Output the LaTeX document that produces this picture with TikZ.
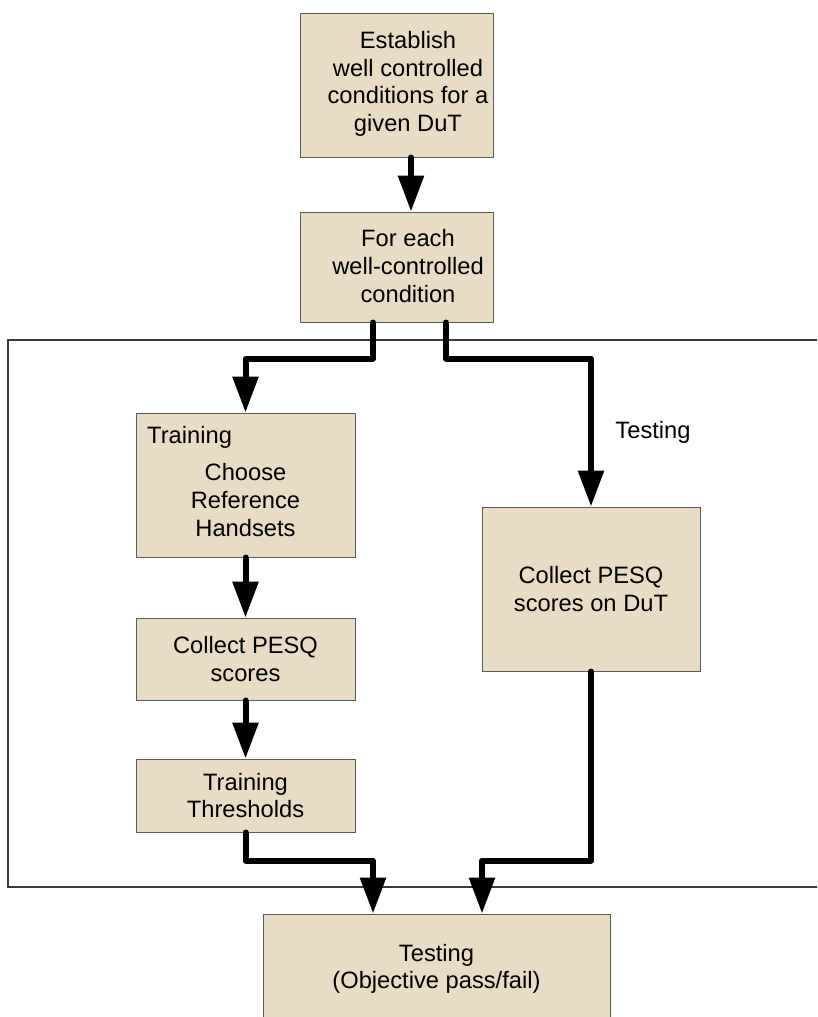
\documentclass[tikz,border=0pt]{standalone}
\usepackage{fontspec}
\setmainfont{Liberation Sans}
\usetikzlibrary{arrows.meta}
\definecolor{boxfill}{HTML}{E8DCC4}
\definecolor{boxline}{HTML}{5A5A5A}
\definecolor{frameline}{HTML}{3A3A3A}
\tikzset{
  box/.style={draw=boxline, line width=1pt, fill=boxfill, inner sep=0pt, align=center,
    font=\fontsize{23.7}{27.7}\selectfont},
  lbl/.style={inner sep=0pt, align=center, font=\fontsize{23.7}{27.7}\selectfont},
  flow/.style={line width=6pt, line cap=round, line join=round,
    -{Triangle[length=36pt,width=25pt]}},
  frame/.style={draw=frameline, line width=1.8pt}
}
\begin{document}
\begin{tikzpicture}[x=1pt,y=-1pt]
\useasboundingbox (0,0) rectangle (817,1017);
\clip (0,0) rectangle (817,1017);
% frame
\draw[frame] (825,340) -- (8,340) -- (8,887) -- (825,887);
% boxes
\node[box, minimum width=193pt, minimum height=144pt] (b1) at (396.5,85) {};
\node[lbl] (b1txt) at (408,84) {Establish\\well controlled\\conditions for a\\given DuT};
\node[box, minimum width=193pt, minimum height=110pt] (b2) at (396.5,267) {};
\node[lbl] (b2txt) at (408,266) {For each\\well-controlled\\condition};
\node[box, minimum width=219pt, minimum height=144pt] (train) at (245.5,485) {};
\node[lbl] (traintxt) at (245.5,500) {Choose\\Reference\\Handsets};
\node[lbl, anchor=west] (trainlbl) at (147,437) {Training};
\node[box, minimum width=219pt, minimum height=82pt] (coll) at (245.5,659) {Collect PESQ\\scores};
\node[box, minimum width=219pt, minimum height=73pt] (thr) at (245.5,795.5) {Training\\Thresholds};
\node[box, minimum width=218pt, minimum height=164pt] (dut) at (591,589) {Collect PESQ\\scores on DuT};
\node[box, minimum width=347pt, minimum height=110pt] (out) at (436.5,969) {Testing\\(Objective pass/fail)};
\node[lbl] (testlbl) at (653,432) {Testing};
% connectors
\draw[flow] ([xshift=14.5pt]b1.south) -- ([xshift=14.5pt]b2.north);
\draw[flow] ([xshift=-23.5pt]b2.south) -- ++(0,36) -| (train.north);
\draw[flow] ([xshift=49.5pt]b2.south) -- ++(0,36) -| (dut.north);
\draw[flow] (train.south) -- (coll.north);
\draw[flow] (coll.south) -- (thr.north);
\draw[flow] (thr.south) -- ++(0,28) -| ([xshift=-63.5pt]out.north);
\draw[flow] (dut.south) -- ++(0,189) -| ([xshift=45.5pt]out.north);
\end{tikzpicture}
\end{document}
